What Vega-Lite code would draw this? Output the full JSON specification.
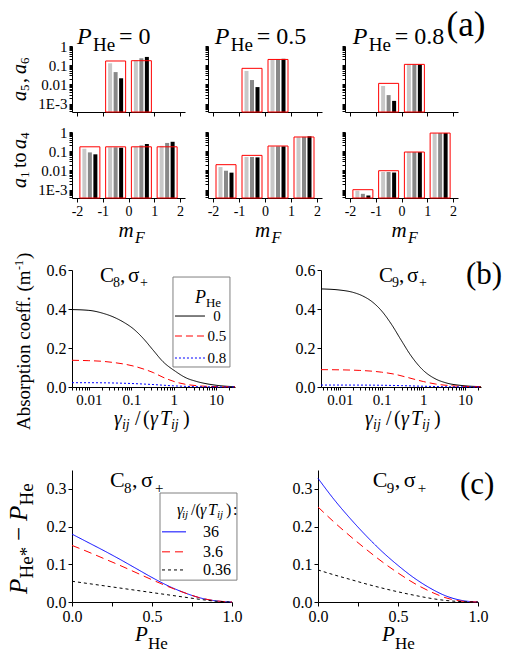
{
"$schema": "https://vega.github.io/schema/vega-lite/v6.json",
"padding": 0,
"config": {
 "font": "Liberation Serif",
 "view": {"stroke": null},
 "axis": {"grid": false, "domainColor": "black", "tickColor": "black", "labelColor": "black", "labelFont": "Liberation Serif", "labelFontSize": 15, "tickSize": 4, "labelPadding": 2, "labelFlush": false, "labelOverlap": false},
 "text": {"font": "Liberation Serif", "color": "black"}
},
"datasets": {
 "one": [{"k": 1}],
 "bars": [
  {"P":0,"r":"t","m":-0.5,"s":"box","v":0.166},{"P":0,"r":"t","m":-0.5,"s":"l","v":0.126},{"P":0,"r":"t","m":-0.5,"s":"g","v":0.044},{"P":0,"r":"t","m":-0.5,"s":"k","v":0.021},
  {"P":0,"r":"t","m":0.5,"s":"box","v":0.172},{"P":0,"r":"t","m":0.5,"s":"l","v":0.18},{"P":0,"r":"t","m":0.5,"s":"g","v":0.23},{"P":0,"r":"t","m":0.5,"s":"k","v":0.27},
  {"P":0.5,"r":"t","m":-0.5,"s":"box","v":0.069},{"P":0.5,"r":"t","m":-0.5,"s":"l","v":0.05},{"P":0.5,"r":"t","m":-0.5,"s":"g","v":0.017},{"P":0.5,"r":"t","m":-0.5,"s":"k","v":0.0073},
  {"P":0.5,"r":"t","m":0.5,"s":"box","v":0.2},{"P":0.5,"r":"t","m":0.5,"s":"l","v":0.19},{"P":0.5,"r":"t","m":0.5,"s":"g","v":0.2},{"P":0.5,"r":"t","m":0.5,"s":"k","v":0.215},
  {"P":0.8,"r":"t","m":-0.5,"s":"box","v":0.0114},{"P":0.8,"r":"t","m":-0.5,"s":"l","v":0.0083},{"P":0.8,"r":"t","m":-0.5,"s":"g","v":0.0028},{"P":0.8,"r":"t","m":-0.5,"s":"k","v":0.0014},
  {"P":0.8,"r":"t","m":0.5,"s":"box","v":0.111},{"P":0.8,"r":"t","m":0.5,"s":"l","v":0.11},{"P":0.8,"r":"t","m":0.5,"s":"g","v":0.11},{"P":0.8,"r":"t","m":0.5,"s":"k","v":0.11},
  {"P":0,"r":"b","m":-1.5,"s":"box","v":0.17},{"P":0,"r":"b","m":-1.5,"s":"l","v":0.135},{"P":0,"r":"b","m":-1.5,"s":"g","v":0.087},{"P":0,"r":"b","m":-1.5,"s":"k","v":0.069},
  {"P":0,"r":"b","m":-0.5,"s":"box","v":0.17},{"P":0,"r":"b","m":-0.5,"s":"l","v":0.16},{"P":0,"r":"b","m":-0.5,"s":"g","v":0.16},{"P":0,"r":"b","m":-0.5,"s":"k","v":0.152},
  {"P":0,"r":"b","m":0.5,"s":"box","v":0.17},{"P":0,"r":"b","m":0.5,"s":"l","v":0.17},{"P":0,"r":"b","m":0.5,"s":"g","v":0.2},{"P":0,"r":"b","m":0.5,"s":"k","v":0.237},
  {"P":0,"r":"b","m":1.5,"s":"box","v":0.17},{"P":0,"r":"b","m":1.5,"s":"l","v":0.19},{"P":0,"r":"b","m":1.5,"s":"g","v":0.27},{"P":0,"r":"b","m":1.5,"s":"k","v":0.31},
  {"P":0.5,"r":"b","m":-1.5,"s":"box","v":0.02},{"P":0.5,"r":"b","m":-1.5,"s":"l","v":0.015},{"P":0.5,"r":"b","m":-1.5,"s":"g","v":0.0097},{"P":0.5,"r":"b","m":-1.5,"s":"k","v":0.0077},
  {"P":0.5,"r":"b","m":-0.5,"s":"box","v":0.061},{"P":0.5,"r":"b","m":-0.5,"s":"l","v":0.05},{"P":0.5,"r":"b","m":-0.5,"s":"g","v":0.05},{"P":0.5,"r":"b","m":-0.5,"s":"k","v":0.048},
  {"P":0.5,"r":"b","m":0.5,"s":"box","v":0.187},{"P":0.5,"r":"b","m":0.5,"s":"l","v":0.18},{"P":0.5,"r":"b","m":0.5,"s":"g","v":0.18},{"P":0.5,"r":"b","m":0.5,"s":"k","v":0.18},
  {"P":0.5,"r":"b","m":1.5,"s":"box","v":0.55},{"P":0.5,"r":"b","m":1.5,"s":"l","v":0.53},{"P":0.5,"r":"b","m":1.5,"s":"g","v":0.56},{"P":0.5,"r":"b","m":1.5,"s":"k","v":0.6},
  {"P":0.8,"r":"b","m":-1.5,"s":"box","v":0.001},{"P":0.8,"r":"b","m":-1.5,"s":"l","v":0.00088},{"P":0.8,"r":"b","m":-1.5,"s":"g","v":0.00061},{"P":0.8,"r":"b","m":-1.5,"s":"k","v":0.0005},
  {"P":0.8,"r":"b","m":-0.5,"s":"box","v":0.0097},{"P":0.8,"r":"b","m":-0.5,"s":"l","v":0.0083},{"P":0.8,"r":"b","m":-0.5,"s":"g","v":0.0083},{"P":0.8,"r":"b","m":-0.5,"s":"k","v":0.0078},
  {"P":0.8,"r":"b","m":0.5,"s":"box","v":0.091},{"P":0.8,"r":"b","m":0.5,"s":"l","v":0.09},{"P":0.8,"r":"b","m":0.5,"s":"g","v":0.09},{"P":0.8,"r":"b","m":0.5,"s":"k","v":0.09},
  {"P":0.8,"r":"b","m":1.5,"s":"box","v":0.88},{"P":0.8,"r":"b","m":1.5,"s":"l","v":0.86},{"P":0.8,"r":"b","m":1.5,"s":"g","v":0.87},{"P":0.8,"r":"b","m":1.5,"s":"k","v":0.88}
 ],
 "lines": [
  {"p":"B1","g":"0","x":0.004,"y":0.397},{"p":"B1","g":"0","x":0.01,"y":0.393},{"p":"B1","g":"0","x":0.0215,"y":0.378},{"p":"B1","g":"0","x":0.037,"y":0.36},{"p":"B1","g":"0","x":0.064,"y":0.334},{"p":"B1","g":"0","x":0.114,"y":0.297},{"p":"B1","g":"0","x":0.19,"y":0.25},{"p":"B1","g":"0","x":0.325,"y":0.19},{"p":"B1","g":"0","x":0.56,"y":0.13},{"p":"B1","g":"0","x":1.09,"y":0.081},{"p":"B1","g":"0","x":2,"y":0.046},{"p":"B1","g":"0","x":3.4,"y":0.029},{"p":"B1","g":"0","x":10,"y":0.009},{"p":"B1","g":"0","x":28,"y":0.0015},
  {"p":"B1","g":"0.5","x":0.004,"y":0.137},{"p":"B1","g":"0.5","x":0.01,"y":0.135},{"p":"B1","g":"0.5","x":0.02,"y":0.132},{"p":"B1","g":"0.5","x":0.04,"y":0.125},{"p":"B1","g":"0.5","x":0.07,"y":0.117},{"p":"B1","g":"0.5","x":0.11,"y":0.108},{"p":"B1","g":"0.5","x":0.19,"y":0.093},{"p":"B1","g":"0.5","x":0.33,"y":0.074},{"p":"B1","g":"0.5","x":0.56,"y":0.05},{"p":"B1","g":"0.5","x":1.1,"y":0.026},{"p":"B1","g":"0.5","x":2,"y":0.013},{"p":"B1","g":"0.5","x":3.4,"y":0.007},{"p":"B1","g":"0.5","x":10,"y":0.002},{"p":"B1","g":"0.5","x":28,"y":0.0005},
  {"p":"B1","g":"0.8","x":0.004,"y":0.022},{"p":"B1","g":"0.8","x":0.01,"y":0.022},{"p":"B1","g":"0.8","x":0.03,"y":0.021},{"p":"B1","g":"0.8","x":0.1,"y":0.018},{"p":"B1","g":"0.8","x":0.3,"y":0.013},{"p":"B1","g":"0.8","x":1,"y":0.006},{"p":"B1","g":"0.8","x":3,"y":0.002},{"p":"B1","g":"0.8","x":10,"y":0.0005},{"p":"B1","g":"0.8","x":28,"y":0.0001},
  {"p":"B2","g":"0","x":0.0035,"y":0.503},{"p":"B2","g":"0","x":0.01,"y":0.497},{"p":"B2","g":"0","x":0.02,"y":0.486},{"p":"B2","g":"0","x":0.035,"y":0.467},{"p":"B2","g":"0","x":0.06,"y":0.436},{"p":"B2","g":"0","x":0.1,"y":0.39},{"p":"B2","g":"0","x":0.17,"y":0.323},{"p":"B2","g":"0","x":0.3,"y":0.237},{"p":"B2","g":"0","x":0.5,"y":0.162},{"p":"B2","g":"0","x":1,"y":0.085},{"p":"B2","g":"0","x":2,"y":0.0405},{"p":"B2","g":"0","x":3.5,"y":0.0213},{"p":"B2","g":"0","x":10,"y":0.0061},{"p":"B2","g":"0","x":24,"y":0.0021},
  {"p":"B2","g":"0.5","x":0.0035,"y":0.089},{"p":"B2","g":"0.5","x":0.01,"y":0.088},{"p":"B2","g":"0.5","x":0.03,"y":0.085},{"p":"B2","g":"0.5","x":0.06,"y":0.081},{"p":"B2","g":"0.5","x":0.1,"y":0.076},{"p":"B2","g":"0.5","x":0.2,"y":0.066},{"p":"B2","g":"0.5","x":0.4,"y":0.05},{"p":"B2","g":"0.5","x":1,"y":0.028},{"p":"B2","g":"0.5","x":2,"y":0.015},{"p":"B2","g":"0.5","x":5,"y":0.006},{"p":"B2","g":"0.5","x":10,"y":0.003},{"p":"B2","g":"0.5","x":24,"y":0.001},
  {"p":"B2","g":"0.8","x":0.0035,"y":0.01},{"p":"B2","g":"0.8","x":0.03,"y":0.0098},{"p":"B2","g":"0.8","x":0.1,"y":0.009},{"p":"B2","g":"0.8","x":0.3,"y":0.007},{"p":"B2","g":"0.8","x":1,"y":0.004},{"p":"B2","g":"0.8","x":3,"y":0.0015},{"p":"B2","g":"0.8","x":10,"y":0.0005},{"p":"B2","g":"0.8","x":24,"y":0.0001},
  {"p":"C1","g":"36","x":0,"y":0.18},{"p":"C1","g":"36","x":0.1,"y":0.158},{"p":"C1","g":"36","x":0.2,"y":0.136},{"p":"C1","g":"36","x":0.3,"y":0.113},{"p":"C1","g":"36","x":0.4,"y":0.089},{"p":"C1","g":"36","x":0.5,"y":0.065},{"p":"C1","g":"36","x":0.6,"y":0.043},{"p":"C1","g":"36","x":0.7,"y":0.025},{"p":"C1","g":"36","x":0.8,"y":0.011},{"p":"C1","g":"36","x":0.9,"y":0.003},{"p":"C1","g":"36","x":1,"y":0},
  {"p":"C1","g":"3.6","x":0,"y":0.15},{"p":"C1","g":"3.6","x":0.1,"y":0.133},{"p":"C1","g":"3.6","x":0.2,"y":0.115},{"p":"C1","g":"3.6","x":0.3,"y":0.097},{"p":"C1","g":"3.6","x":0.4,"y":0.078},{"p":"C1","g":"3.6","x":0.5,"y":0.059},{"p":"C1","g":"3.6","x":0.6,"y":0.041},{"p":"C1","g":"3.6","x":0.7,"y":0.025},{"p":"C1","g":"3.6","x":0.8,"y":0.011},{"p":"C1","g":"3.6","x":0.9,"y":0.003},{"p":"C1","g":"3.6","x":1,"y":0},
  {"p":"C1","g":"0.36","x":0,"y":0.055},{"p":"C1","g":"0.36","x":0.1,"y":0.049},{"p":"C1","g":"0.36","x":0.2,"y":0.043},{"p":"C1","g":"0.36","x":0.3,"y":0.037},{"p":"C1","g":"0.36","x":0.4,"y":0.031},{"p":"C1","g":"0.36","x":0.5,"y":0.025},{"p":"C1","g":"0.36","x":0.6,"y":0.019},{"p":"C1","g":"0.36","x":0.7,"y":0.013},{"p":"C1","g":"0.36","x":0.8,"y":0.007},{"p":"C1","g":"0.36","x":0.9,"y":0.002},{"p":"C1","g":"0.36","x":1,"y":0},
  {"p":"C2","g":"36","x":0,"y":0.328},{"p":"C2","g":"36","x":0.1,"y":0.272},{"p":"C2","g":"36","x":0.2,"y":0.222},{"p":"C2","g":"36","x":0.3,"y":0.176},{"p":"C2","g":"36","x":0.4,"y":0.134},{"p":"C2","g":"36","x":0.5,"y":0.097},{"p":"C2","g":"36","x":0.6,"y":0.064},{"p":"C2","g":"36","x":0.7,"y":0.037},{"p":"C2","g":"36","x":0.8,"y":0.016},{"p":"C2","g":"36","x":0.9,"y":0.004},{"p":"C2","g":"36","x":1,"y":0},
  {"p":"C2","g":"3.6","x":0,"y":0.252},{"p":"C2","g":"3.6","x":0.1,"y":0.212},{"p":"C2","g":"3.6","x":0.2,"y":0.175},{"p":"C2","g":"3.6","x":0.3,"y":0.14},{"p":"C2","g":"3.6","x":0.4,"y":0.107},{"p":"C2","g":"3.6","x":0.5,"y":0.077},{"p":"C2","g":"3.6","x":0.6,"y":0.05},{"p":"C2","g":"3.6","x":0.7,"y":0.028},{"p":"C2","g":"3.6","x":0.8,"y":0.011},{"p":"C2","g":"3.6","x":0.9,"y":0.002},{"p":"C2","g":"3.6","x":1,"y":0},
  {"p":"C2","g":"0.36","x":0,"y":0.085},{"p":"C2","g":"0.36","x":0.1,"y":0.072},{"p":"C2","g":"0.36","x":0.2,"y":0.06},{"p":"C2","g":"0.36","x":0.3,"y":0.048},{"p":"C2","g":"0.36","x":0.4,"y":0.037},{"p":"C2","g":"0.36","x":0.5,"y":0.027},{"p":"C2","g":"0.36","x":0.6,"y":0.018},{"p":"C2","g":"0.36","x":0.7,"y":0.01},{"p":"C2","g":"0.36","x":0.8,"y":0.004},{"p":"C2","g":"0.36","x":0.9,"y":0.001},{"p":"C2","g":"0.36","x":1,"y":0}
 ]
},
"spacing": 0,
"resolve": {"scale": {"color": "independent", "strokeDash": "independent"}},
"vconcat": [
 {"hconcat": [
  {"width": 113, "height": 66,
   "layer": [
    {"data": {"name": "bars"}, "transform": [{"filter": "datum.P == 0 && datum.r == 't'"}],
     "encoding": {
      "x": {"field": "m", "type": "quantitative", "scale": {"domain": [-2, 2], "nice": false, "zero": false}, "axis": {"values": [-2,-1,0,1,2], "tickCount": 20, "labels": false, "title": null}},
      "y": {"field": "v", "type": "quantitative", "scale": {"type": "log", "domain": [0.00037, 1], "nice": false}, "axis": {"values": [0.0004,0.0005,0.0006,0.0007,0.0008,0.0009,0.001,0.002,0.003,0.004,0.005,0.006,0.007,0.008,0.009,0.01,0.02,0.03,0.04,0.05,0.06,0.07,0.08,0.09,0.1,0.2,0.3,0.4,0.5,0.6,0.7,0.8,0.9,1], "tickCount": 100, "labelExpr": "datum.value == 1 ? '1' : datum.value == 0.1 ? '0.1' : datum.value == 0.01 ? '0.01' : datum.value == 0.001 ? '1E-3' : ''", "title": null, "tickSize": 3}},
      "y2": {"datum": 0.00037}
     },
     "layer": [
      {"transform": [{"filter": "datum.s == 'l'"}], "mark": {"type": "bar", "width": 4, "xOffset": -5.5, "color": "#c8c8c8"}},
      {"transform": [{"filter": "datum.s == 'g'"}], "mark": {"type": "bar", "width": 4, "xOffset": 0, "color": "#888888"}},
      {"transform": [{"filter": "datum.s == 'k'"}], "mark": {"type": "bar", "width": 4, "xOffset": 5.5, "color": "#000000"}},
      {"transform": [{"filter": "datum.s == 'box'"}], "mark": {"type": "bar", "width": 20, "filled": false, "color": "#ff0000", "strokeWidth": 1}}
     ]},
    {"data": {"name": "one"}, "mark": {"type": "rect", "opacity": 0}, "encoding": {"x": {"datum": -4.726}, "x2": {"datum": -2}, "y": {"datum": 221}, "y2": {"datum": 0.000124}}},
    {"data": {"name": "one"}, "encoding": {"x": {"datum": -2}, "y": {"datum": 1.32}}, "layer": [
     {"mark": {"type": "text", "fontSize": 24, "fontStyle": "italic", "align": "left", "baseline": "alphabetic"}, "encoding": {"text": {"value": "P"}}},
     {"mark": {"type": "text", "fontSize": 19, "align": "left", "baseline": "alphabetic", "dx": 16, "dy": 7}, "encoding": {"text": {"value": "He"}}},
     {"mark": {"type": "text", "fontSize": 24, "align": "left", "baseline": "alphabetic", "dx": 42}, "encoding": {"text": {"value": "= 0"}}}
    ]},
    {"data": {"name": "one"}, "encoding": {"x": {"datum": -3.98}, "y": {"datum": 0.00137}}, "layer": [
     {"mark": {"type": "text", "fontSize": 20, "fontStyle": "italic", "angle": 270, "align": "left", "baseline": "alphabetic"}, "encoding": {"text": {"value": "a"}}},
     {"mark": {"type": "text", "fontSize": 13, "angle": 270, "align": "left", "baseline": "alphabetic", "dx": 10, "dy": 3}, "encoding": {"text": {"value": "5"}}},
     {"mark": {"type": "text", "fontSize": 20, "angle": 270, "align": "left", "baseline": "alphabetic", "dx": 18}, "encoding": {"text": {"value": ","}}},
     {"mark": {"type": "text", "fontSize": 20, "fontStyle": "italic", "angle": 270, "align": "left", "baseline": "alphabetic", "dx": 27}, "encoding": {"text": {"value": "a"}}},
     {"mark": {"type": "text", "fontSize": 13, "angle": 270, "align": "left", "baseline": "alphabetic", "dx": 37, "dy": 3}, "encoding": {"text": {"value": "6"}}}
    ]}
   ]},
  {"width": 114, "height": 66,
   "layer": [
    {"data": {"name": "bars"}, "transform": [{"filter": "datum.P == 0.5 && datum.r == 't'"}],
     "encoding": {
      "x": {"field": "m", "type": "quantitative", "scale": {"domain": [-2, 2], "nice": false, "zero": false}, "axis": {"values": [-2,-1,0,1,2], "tickCount": 20, "labels": false, "title": null}},
      "y": {"field": "v", "type": "quantitative", "scale": {"type": "log", "domain": [0.00037, 1], "nice": false}, "axis": {"values": [0.0004,0.0005,0.0006,0.0007,0.0008,0.0009,0.001,0.002,0.003,0.004,0.005,0.006,0.007,0.008,0.009,0.01,0.02,0.03,0.04,0.05,0.06,0.07,0.08,0.09,0.1,0.2,0.3,0.4,0.5,0.6,0.7,0.8,0.9,1], "tickCount": 100, "labels": false, "title": null, "tickSize": 3}},
      "y2": {"datum": 0.00037}
     },
     "layer": [
      {"transform": [{"filter": "datum.s == 'l'"}], "mark": {"type": "bar", "width": 4, "xOffset": -5.5, "color": "#c8c8c8"}},
      {"transform": [{"filter": "datum.s == 'g'"}], "mark": {"type": "bar", "width": 4, "xOffset": 0, "color": "#888888"}},
      {"transform": [{"filter": "datum.s == 'k'"}], "mark": {"type": "bar", "width": 4, "xOffset": 5.5, "color": "#000000"}},
      {"transform": [{"filter": "datum.s == 'box'"}], "mark": {"type": "bar", "width": 20, "filled": false, "color": "#ff0000", "strokeWidth": 1}}
     ]},
    {"data": {"name": "one"}, "encoding": {"x": {"datum": -1.93}, "y": {"datum": 1.32}}, "layer": [
     {"mark": {"type": "text", "fontSize": 24, "fontStyle": "italic", "align": "left", "baseline": "alphabetic"}, "encoding": {"text": {"value": "P"}}},
     {"mark": {"type": "text", "fontSize": 19, "align": "left", "baseline": "alphabetic", "dx": 16, "dy": 7}, "encoding": {"text": {"value": "He"}}},
     {"mark": {"type": "text", "fontSize": 24, "align": "left", "baseline": "alphabetic", "dx": 42}, "encoding": {"text": {"value": "= 0.5"}}}
    ]}
   ]},
  {"width": 113, "height": 66,
   "layer": [
    {"data": {"name": "bars"}, "transform": [{"filter": "datum.P == 0.8 && datum.r == 't'"}],
     "encoding": {
      "x": {"field": "m", "type": "quantitative", "scale": {"domain": [-2, 2], "nice": false, "zero": false}, "axis": {"values": [-2,-1,0,1,2], "tickCount": 20, "labels": false, "title": null}},
      "y": {"field": "v", "type": "quantitative", "scale": {"type": "log", "domain": [0.00037, 1], "nice": false}, "axis": {"values": [0.0004,0.0005,0.0006,0.0007,0.0008,0.0009,0.001,0.002,0.003,0.004,0.005,0.006,0.007,0.008,0.009,0.01,0.02,0.03,0.04,0.05,0.06,0.07,0.08,0.09,0.1,0.2,0.3,0.4,0.5,0.6,0.7,0.8,0.9,1], "tickCount": 100, "labels": false, "title": null, "tickSize": 3}},
      "y2": {"datum": 0.00037}
     },
     "layer": [
      {"transform": [{"filter": "datum.s == 'l'"}], "mark": {"type": "bar", "width": 4, "xOffset": -5.5, "color": "#c8c8c8"}},
      {"transform": [{"filter": "datum.s == 'g'"}], "mark": {"type": "bar", "width": 4, "xOffset": 0, "color": "#888888"}},
      {"transform": [{"filter": "datum.s == 'k'"}], "mark": {"type": "bar", "width": 4, "xOffset": 5.5, "color": "#000000"}},
      {"transform": [{"filter": "datum.s == 'box'"}], "mark": {"type": "bar", "width": 20, "filled": false, "color": "#ff0000", "strokeWidth": 1}}
     ]},
    {"data": {"name": "one"}, "encoding": {"x": {"datum": -1.894}, "y": {"datum": 1.32}}, "layer": [
     {"mark": {"type": "text", "fontSize": 24, "fontStyle": "italic", "align": "left", "baseline": "alphabetic"}, "encoding": {"text": {"value": "P"}}},
     {"mark": {"type": "text", "fontSize": 19, "align": "left", "baseline": "alphabetic", "dx": 16, "dy": 7}, "encoding": {"text": {"value": "He"}}},
     {"mark": {"type": "text", "fontSize": 24, "align": "left", "baseline": "alphabetic", "dx": 42}, "encoding": {"text": {"value": "= 0.8"}}}
    ]},
    {"data": {"name": "one"}, "mark": {"type": "text", "fontSize": 35, "align": "left", "baseline": "alphabetic"}, "encoding": {"x": {"datum": 1.75}, "y": {"datum": 3.3}, "text": {"value": "(a)"}}}
   ]}
 ], "spacing": 23, "bounds": "flush"},
 {"hconcat": [
  {"width": 113, "height": 66,
   "layer": [
    {"data": {"name": "bars"}, "transform": [{"filter": "datum.P == 0 && datum.r == 'b'"}],
     "encoding": {
      "x": {"field": "m", "type": "quantitative", "scale": {"domain": [-2, 2], "nice": false, "zero": false}, "axis": {"values": [-2,-1,0,1,2], "tickCount": 20, "labelExpr": "'' + datum.value", "labelFontSize": 14, "title": null}},
      "y": {"field": "v", "type": "quantitative", "scale": {"type": "log", "domain": [0.00037, 1], "nice": false}, "axis": {"values": [0.0004,0.0005,0.0006,0.0007,0.0008,0.0009,0.001,0.002,0.003,0.004,0.005,0.006,0.007,0.008,0.009,0.01,0.02,0.03,0.04,0.05,0.06,0.07,0.08,0.09,0.1,0.2,0.3,0.4,0.5,0.6,0.7,0.8,0.9,1], "tickCount": 100, "labelExpr": "datum.value == 1 ? '1' : datum.value == 0.1 ? '0.1' : datum.value == 0.01 ? '0.01' : datum.value == 0.001 ? '1E-3' : ''", "title": null, "tickSize": 3}},
      "y2": {"datum": 0.00037}
     },
     "layer": [
      {"transform": [{"filter": "datum.s == 'l'"}], "mark": {"type": "bar", "width": 4, "xOffset": -5.5, "color": "#c8c8c8"}},
      {"transform": [{"filter": "datum.s == 'g'"}], "mark": {"type": "bar", "width": 4, "xOffset": 0, "color": "#888888"}},
      {"transform": [{"filter": "datum.s == 'k'"}], "mark": {"type": "bar", "width": 4, "xOffset": 5.5, "color": "#000000"}},
      {"transform": [{"filter": "datum.s == 'box'"}], "mark": {"type": "bar", "width": 20, "filled": false, "color": "#ff0000", "strokeWidth": 1}}
     ]},
    {"data": {"name": "one"}, "mark": {"type": "rect", "opacity": 0}, "encoding": {"x": {"datum": -4.726}, "x2": {"datum": -2}, "y": {"datum": 2.94}, "y2": {"datum": 0.00000102}}},
    {"data": {"name": "one"}, "encoding": {"x": {"datum": -3.98}, "y": {"datum": 0.00121}}, "layer": [
     {"mark": {"type": "text", "fontSize": 20, "fontStyle": "italic", "angle": 270, "align": "left", "baseline": "alphabetic"}, "encoding": {"text": {"value": "a"}}},
     {"mark": {"type": "text", "fontSize": 13, "angle": 270, "align": "left", "baseline": "alphabetic", "dx": 10, "dy": 3}, "encoding": {"text": {"value": "1"}}},
     {"mark": {"type": "text", "fontSize": 20, "angle": 270, "align": "left", "baseline": "alphabetic", "dx": 20}, "encoding": {"text": {"value": "to"}}},
     {"mark": {"type": "text", "fontSize": 20, "fontStyle": "italic", "angle": 270, "align": "left", "baseline": "alphabetic", "dx": 39}, "encoding": {"text": {"value": "a"}}},
     {"mark": {"type": "text", "fontSize": 13, "angle": 270, "align": "left", "baseline": "alphabetic", "dx": 49, "dy": 3}, "encoding": {"text": {"value": "4"}}}
    ]},
    {"data": {"name": "one"}, "encoding": {"x": {"datum": 0}, "y": {"datum": 0.00000344}}, "layer": [
     {"mark": {"type": "text", "fontSize": 21, "fontStyle": "italic", "align": "left", "baseline": "alphabetic", "dx": -10}, "encoding": {"text": {"value": "m"}}},
     {"mark": {"type": "text", "fontSize": 16, "fontStyle": "italic", "align": "left", "baseline": "alphabetic", "dx": 6.5, "dy": 6}, "encoding": {"text": {"value": "F"}}}
    ]}
   ]},
  {"width": 114, "height": 66,
   "layer": [
    {"data": {"name": "bars"}, "transform": [{"filter": "datum.P == 0.5 && datum.r == 'b'"}],
     "encoding": {
      "x": {"field": "m", "type": "quantitative", "scale": {"domain": [-2, 2], "nice": false, "zero": false}, "axis": {"values": [-2,-1,0,1,2], "tickCount": 20, "labelExpr": "'' + datum.value", "labelFontSize": 14, "title": null}},
      "y": {"field": "v", "type": "quantitative", "scale": {"type": "log", "domain": [0.00037, 1], "nice": false}, "axis": {"values": [0.0004,0.0005,0.0006,0.0007,0.0008,0.0009,0.001,0.002,0.003,0.004,0.005,0.006,0.007,0.008,0.009,0.01,0.02,0.03,0.04,0.05,0.06,0.07,0.08,0.09,0.1,0.2,0.3,0.4,0.5,0.6,0.7,0.8,0.9,1], "tickCount": 100, "labels": false, "title": null, "tickSize": 3}},
      "y2": {"datum": 0.00037}
     },
     "layer": [
      {"transform": [{"filter": "datum.s == 'l'"}], "mark": {"type": "bar", "width": 4, "xOffset": -5.5, "color": "#c8c8c8"}},
      {"transform": [{"filter": "datum.s == 'g'"}], "mark": {"type": "bar", "width": 4, "xOffset": 0, "color": "#888888"}},
      {"transform": [{"filter": "datum.s == 'k'"}], "mark": {"type": "bar", "width": 4, "xOffset": 5.5, "color": "#000000"}},
      {"transform": [{"filter": "datum.s == 'box'"}], "mark": {"type": "bar", "width": 20, "filled": false, "color": "#ff0000", "strokeWidth": 1}}
     ]},
    {"data": {"name": "one"}, "encoding": {"x": {"datum": 0}, "y": {"datum": 0.00000344}}, "layer": [
     {"mark": {"type": "text", "fontSize": 21, "fontStyle": "italic", "align": "left", "baseline": "alphabetic", "dx": -10}, "encoding": {"text": {"value": "m"}}},
     {"mark": {"type": "text", "fontSize": 16, "fontStyle": "italic", "align": "left", "baseline": "alphabetic", "dx": 6.5, "dy": 6}, "encoding": {"text": {"value": "F"}}}
    ]}
   ]},
  {"width": 113, "height": 66,
   "layer": [
    {"data": {"name": "bars"}, "transform": [{"filter": "datum.P == 0.8 && datum.r == 'b'"}],
     "encoding": {
      "x": {"field": "m", "type": "quantitative", "scale": {"domain": [-2, 2], "nice": false, "zero": false}, "axis": {"values": [-2,-1,0,1,2], "tickCount": 20, "labelExpr": "'' + datum.value", "labelFontSize": 14, "title": null}},
      "y": {"field": "v", "type": "quantitative", "scale": {"type": "log", "domain": [0.00037, 1], "nice": false}, "axis": {"values": [0.0004,0.0005,0.0006,0.0007,0.0008,0.0009,0.001,0.002,0.003,0.004,0.005,0.006,0.007,0.008,0.009,0.01,0.02,0.03,0.04,0.05,0.06,0.07,0.08,0.09,0.1,0.2,0.3,0.4,0.5,0.6,0.7,0.8,0.9,1], "tickCount": 100, "labels": false, "title": null, "tickSize": 3}},
      "y2": {"datum": 0.00037}
     },
     "layer": [
      {"transform": [{"filter": "datum.s == 'l'"}], "mark": {"type": "bar", "width": 4, "xOffset": -5.5, "color": "#c8c8c8"}},
      {"transform": [{"filter": "datum.s == 'g'"}], "mark": {"type": "bar", "width": 4, "xOffset": 0, "color": "#888888"}},
      {"transform": [{"filter": "datum.s == 'k'"}], "mark": {"type": "bar", "width": 4, "xOffset": 5.5, "color": "#000000"}},
      {"transform": [{"filter": "datum.s == 'box'"}], "mark": {"type": "bar", "width": 20, "filled": false, "color": "#ff0000", "strokeWidth": 1}}
     ]},
    {"data": {"name": "one"}, "encoding": {"x": {"datum": 0}, "y": {"datum": 0.00000344}}, "layer": [
     {"mark": {"type": "text", "fontSize": 21, "fontStyle": "italic", "align": "left", "baseline": "alphabetic", "dx": -10}, "encoding": {"text": {"value": "m"}}},
     {"mark": {"type": "text", "fontSize": 16, "fontStyle": "italic", "align": "left", "baseline": "alphabetic", "dx": 6.5, "dy": 6}, "encoding": {"text": {"value": "F"}}}
    ]}
   ]}
 ], "spacing": 23, "bounds": "flush"},
 {"hconcat": [
  {"width": 163, "height": 117,
   "layer": [
    {"data": {"name": "lines"}, "transform": [{"filter": "datum.p == 'B1'"}], "mark": {"type": "line", "strokeWidth": 1, "interpolate": "monotone"},
     "encoding": {
      "x": {"field": "x", "type": "quantitative", "scale": {"type": "log", "domain": [0.004, 28], "nice": false}, "axis": {"values": [0.004,0.005,0.006,0.007,0.008,0.009,0.01,0.02,0.03,0.04,0.05,0.06,0.07,0.08,0.09,0.1,0.2,0.3,0.4,0.5,0.6,0.7,0.8,0.9,1,2,3,4,5,6,7,8,9,10,20], "tickCount": 100, "labelExpr": "datum.value == 0.01 ? '0.01' : datum.value == 0.1 ? '0.1' : datum.value == 1 ? '1' : datum.value == 10 ? '10' : ''", "labelFontSize": 15, "title": null, "tickSize": 3}},
      "y": {"field": "y", "type": "quantitative", "scale": {"domain": [0, 0.6], "nice": false}, "axis": {"values": [0, 0.2, 0.4, 0.6], "tickCount": 20, "format": ".1f", "labelFontSize": 16, "title": null}},
      "color": {"field": "g", "type": "nominal", "scale": {"domain": ["0", "0.5", "0.8"], "range": ["#000000", "#ff0000", "#0000ff"]}, "legend": null},
      "strokeDash": {"field": "g", "type": "nominal", "scale": {"domain": ["0", "0.5", "0.8"], "range": [[1, 0], [7, 4], [2, 2]]}, "legend": null}}},
    {"data": {"name": "one"}, "mark": {"type": "rect", "opacity": 0}, "encoding": {"x": {"datum": 0.0000944}, "x2": {"datum": 0.004}, "y": {"datum": 0.7077}, "y2": {"datum": -0.349}}},
    {"data": {"name": "one"}, "mark": {"type": "rect", "fill": "white", "stroke": "#808080", "strokeWidth": 1}, "encoding": {"x": {"datum": 0.964}, "x2": {"datum": 21.3}, "y": {"datum": 0.564}, "y2": {"datum": 0.1026}}},
    {"data": {"name": "one"}, "mark": {"type": "rule", "color": "#000000", "strokeWidth": 1}, "encoding": {"x": {"datum": 1.075}, "x2": {"datum": 5.48}, "y": {"datum": 0.364}}},
    {"data": {"name": "one"}, "mark": {"type": "rule", "color": "#ff0000", "strokeWidth": 1, "strokeDash": [7, 4]}, "encoding": {"x": {"datum": 1.075}, "x2": {"datum": 5.48}, "y": {"datum": 0.2615}}},
    {"data": {"name": "one"}, "mark": {"type": "rule", "color": "#0000ff", "strokeWidth": 1, "strokeDash": [2, 2]}, "encoding": {"x": {"datum": 1.075}, "x2": {"datum": 5.48}, "y": {"datum": 0.1487}}},
    {"data": {"name": "one"}, "mark": {"type": "text", "fontSize": 15, "align": "center", "baseline": "middle"}, "encoding": {"x": {"datum": 10.5}, "y": {"datum": 0.364}, "text": {"value": "0"}}},
    {"data": {"name": "one"}, "mark": {"type": "text", "fontSize": 15, "align": "center", "baseline": "middle"}, "encoding": {"x": {"datum": 10.5}, "y": {"datum": 0.2615}, "text": {"value": "0.5"}}},
    {"data": {"name": "one"}, "mark": {"type": "text", "fontSize": 15, "align": "center", "baseline": "middle"}, "encoding": {"x": {"datum": 10.5}, "y": {"datum": 0.1487}, "text": {"value": "0.8"}}},
    {"data": {"name": "one"}, "encoding": {"x": {"datum": 3.18}, "y": {"datum": 0.431}}, "layer": [
     {"mark": {"type": "text", "fontSize": 18, "fontStyle": "italic", "align": "left", "baseline": "alphabetic"}, "encoding": {"text": {"value": "P"}}},
     {"mark": {"type": "text", "fontSize": 13, "align": "left", "baseline": "alphabetic", "dx": 11, "dy": 4}, "encoding": {"text": {"value": "He"}}}
    ]},
    {"data": {"name": "one"}, "encoding": {"x": {"datum": 0.0183}, "y": {"datum": 0.538}}, "layer": [
     {"mark": {"type": "text", "fontSize": 21, "align": "left", "baseline": "alphabetic"}, "encoding": {"text": {"value": "C"}}},
     {"mark": {"type": "text", "fontSize": 14, "align": "left", "baseline": "alphabetic", "dx": 13, "dy": 5}, "encoding": {"text": {"value": "8"}}},
     {"mark": {"type": "text", "fontSize": 21, "align": "left", "baseline": "alphabetic", "dx": 20}, "encoding": {"text": {"value": ","}}},
     {"mark": {"type": "text", "fontSize": 21, "align": "left", "baseline": "alphabetic", "dx": 28}, "encoding": {"text": {"value": "σ"}}},
     {"mark": {"type": "text", "fontSize": 14, "align": "left", "baseline": "alphabetic", "dx": 40, "dy": 5}, "encoding": {"text": {"value": "+"}}}
    ]},
    {"data": {"name": "one"}, "encoding": {"x": {"datum": 0.0391}, "y": {"datum": -0.1949}}, "layer": [
     {"mark": {"type": "text", "fontSize": 20, "fontStyle": "italic", "align": "left", "baseline": "alphabetic"}, "encoding": {"text": {"value": "γ"}}},
     {"mark": {"type": "text", "fontSize": 14, "fontStyle": "italic", "align": "left", "baseline": "alphabetic", "dx": 8, "dy": 4}, "encoding": {"text": {"value": "ij"}}},
     {"mark": {"type": "text", "fontSize": 20, "align": "left", "baseline": "alphabetic", "dx": 21}, "encoding": {"text": {"value": "/"}}},
     {"mark": {"type": "text", "fontSize": 20, "align": "left", "baseline": "alphabetic", "dx": 29}, "encoding": {"text": {"value": "("}}},
     {"mark": {"type": "text", "fontSize": 20, "fontStyle": "italic", "align": "left", "baseline": "alphabetic", "dx": 36}, "encoding": {"text": {"value": "γ"}}},
     {"mark": {"type": "text", "fontSize": 20, "fontStyle": "italic", "align": "left", "baseline": "alphabetic", "dx": 46}, "encoding": {"text": {"value": "T"}}},
     {"mark": {"type": "text", "fontSize": 14, "fontStyle": "italic", "align": "left", "baseline": "alphabetic", "dx": 57, "dy": 4}, "encoding": {"text": {"value": "ij"}}},
     {"mark": {"type": "text", "fontSize": 20, "align": "left", "baseline": "alphabetic", "dx": 69}, "encoding": {"text": {"value": ")"}}}
    ]},
    {"data": {"name": "one"}, "encoding": {"x": {"datum": 0.00041}, "y": {"datum": -0.2205}}, "layer": [
     {"mark": {"type": "text", "fontSize": 19, "angle": 270, "align": "left", "baseline": "alphabetic"}, "encoding": {"text": {"value": "Absorption coeff. (m"}}},
     {"mark": {"type": "text", "fontSize": 12, "angle": 270, "align": "left", "baseline": "alphabetic", "dx": 160, "dy": -7}, "encoding": {"text": {"value": "-1"}}},
     {"mark": {"type": "text", "fontSize": 19, "angle": 270, "align": "left", "baseline": "alphabetic", "dx": 171}, "encoding": {"text": {"value": ")"}}}
    ]}
   ]},
  {"width": 160, "height": 117,
   "layer": [
    {"data": {"name": "lines"}, "transform": [{"filter": "datum.p == 'B2'"}], "mark": {"type": "line", "strokeWidth": 1, "interpolate": "monotone"},
     "encoding": {
      "x": {"field": "x", "type": "quantitative", "scale": {"type": "log", "domain": [0.0035, 24.2], "nice": false}, "axis": {"values": [0.004,0.005,0.006,0.007,0.008,0.009,0.01,0.02,0.03,0.04,0.05,0.06,0.07,0.08,0.09,0.1,0.2,0.3,0.4,0.5,0.6,0.7,0.8,0.9,1,2,3,4,5,6,7,8,9,10,20], "tickCount": 100, "labelExpr": "datum.value == 0.01 ? '0.01' : datum.value == 0.1 ? '0.1' : datum.value == 1 ? '1' : datum.value == 10 ? '10' : ''", "labelFontSize": 15, "title": null, "tickSize": 3}},
      "y": {"field": "y", "type": "quantitative", "scale": {"domain": [0, 0.6], "nice": false}, "axis": {"values": [0, 0.2, 0.4, 0.6], "tickCount": 20, "format": ".1f", "labelFontSize": 16, "title": null}},
      "color": {"field": "g", "type": "nominal", "scale": {"domain": ["0", "0.5", "0.8"], "range": ["#000000", "#ff0000", "#0000ff"]}, "legend": null},
      "strokeDash": {"field": "g", "type": "nominal", "scale": {"domain": ["0", "0.5", "0.8"], "range": [[1, 0], [7, 4], [2, 2]]}, "legend": null}}},
    {"data": {"name": "one"}, "encoding": {"x": {"datum": 0.0863}, "y": {"datum": 0.538}}, "layer": [
     {"mark": {"type": "text", "fontSize": 21, "align": "left", "baseline": "alphabetic"}, "encoding": {"text": {"value": "C"}}},
     {"mark": {"type": "text", "fontSize": 14, "align": "left", "baseline": "alphabetic", "dx": 13, "dy": 5}, "encoding": {"text": {"value": "9"}}},
     {"mark": {"type": "text", "fontSize": 21, "align": "left", "baseline": "alphabetic", "dx": 20}, "encoding": {"text": {"value": ","}}},
     {"mark": {"type": "text", "fontSize": 21, "align": "left", "baseline": "alphabetic", "dx": 28}, "encoding": {"text": {"value": "σ"}}},
     {"mark": {"type": "text", "fontSize": 14, "align": "left", "baseline": "alphabetic", "dx": 40, "dy": 5}, "encoding": {"text": {"value": "+"}}}
    ]},
    {"data": {"name": "one"}, "mark": {"type": "text", "fontSize": 31, "align": "left", "baseline": "alphabetic"}, "encoding": {"x": {"datum": 10.57}, "y": {"datum": 0.528}, "text": {"value": "(b)"}}},
    {"data": {"name": "one"}, "encoding": {"x": {"datum": 0.0398}, "y": {"datum": -0.1949}}, "layer": [
     {"mark": {"type": "text", "fontSize": 20, "fontStyle": "italic", "align": "left", "baseline": "alphabetic"}, "encoding": {"text": {"value": "γ"}}},
     {"mark": {"type": "text", "fontSize": 14, "fontStyle": "italic", "align": "left", "baseline": "alphabetic", "dx": 8, "dy": 4}, "encoding": {"text": {"value": "ij"}}},
     {"mark": {"type": "text", "fontSize": 20, "align": "left", "baseline": "alphabetic", "dx": 21}, "encoding": {"text": {"value": "/"}}},
     {"mark": {"type": "text", "fontSize": 20, "align": "left", "baseline": "alphabetic", "dx": 29}, "encoding": {"text": {"value": "("}}},
     {"mark": {"type": "text", "fontSize": 20, "fontStyle": "italic", "align": "left", "baseline": "alphabetic", "dx": 36}, "encoding": {"text": {"value": "γ"}}},
     {"mark": {"type": "text", "fontSize": 20, "fontStyle": "italic", "align": "left", "baseline": "alphabetic", "dx": 46}, "encoding": {"text": {"value": "T"}}},
     {"mark": {"type": "text", "fontSize": 14, "fontStyle": "italic", "align": "left", "baseline": "alphabetic", "dx": 57, "dy": 4}, "encoding": {"text": {"value": "ij"}}},
     {"mark": {"type": "text", "fontSize": 20, "align": "left", "baseline": "alphabetic", "dx": 69}, "encoding": {"text": {"value": ")"}}}
    ]}
   ]}
 ], "spacing": 86, "bounds": "flush"},
 {"hconcat": [
  {"width": 160, "height": 132,
   "layer": [
    {"data": {"name": "lines"}, "transform": [{"filter": "datum.p == 'C1'"}], "mark": {"type": "line", "strokeWidth": 1, "interpolate": "monotone"},
     "encoding": {
      "x": {"field": "x", "type": "quantitative", "scale": {"domain": [0, 1], "nice": false}, "axis": {"values": [0, 0.25, 0.5, 0.75, 1], "tickCount": 20, "labelExpr": "datum.value == 0.25 || datum.value == 0.75 ? '' : format(datum.value, '.1f')", "labelFontSize": 16, "title": null}},
      "y": {"field": "y", "type": "quantitative", "scale": {"domain": [0, 0.35], "nice": false}, "axis": {"values": [0, 0.1, 0.2, 0.3], "tickCount": 20, "format": ".1f", "labelFontSize": 16, "title": null}},
      "color": {"field": "g", "type": "nominal", "scale": {"domain": ["36", "3.6", "0.36"], "range": ["#0000ff", "#ff0000", "#000000"]}, "legend": null},
      "strokeDash": {"field": "g", "type": "nominal", "scale": {"domain": ["36", "3.6", "0.36"], "range": [[1, 0], [8, 5], [3, 3]]}, "legend": null}}},
    {"data": {"name": "one"}, "mark": {"type": "rect", "opacity": 0}, "encoding": {"x": {"datum": -0.45}, "x2": {"datum": 0}, "y": {"datum": 0.3846}, "y2": {"datum": -0.1565}}},
    {"data": {"name": "one"}, "mark": {"type": "rect", "fill": "white", "stroke": "#808080", "strokeWidth": 1}, "encoding": {"x": {"datum": 0.55}, "x2": {"datum": 1.031}, "y": {"datum": 0.289}, "y2": {"datum": 0.058}}},
    {"data": {"name": "one"}, "mark": {"type": "rule", "color": "#0000ff", "strokeWidth": 1}, "encoding": {"x": {"datum": 0.5625}, "x2": {"datum": 0.7125}, "y": {"datum": 0.186}}},
    {"data": {"name": "one"}, "mark": {"type": "rule", "color": "#ff0000", "strokeWidth": 1, "strokeDash": [8, 5]}, "encoding": {"x": {"datum": 0.5625}, "x2": {"datum": 0.7125}, "y": {"datum": 0.133}}},
    {"data": {"name": "one"}, "mark": {"type": "rule", "color": "#000000", "strokeWidth": 1, "strokeDash": [3, 3]}, "encoding": {"x": {"datum": 0.5625}, "x2": {"datum": 0.7125}, "y": {"datum": 0.085}}},
    {"data": {"name": "one"}, "mark": {"type": "text", "fontSize": 16, "align": "left", "baseline": "middle"}, "encoding": {"x": {"datum": 0.819}, "y": {"datum": 0.186}, "text": {"value": "36"}}},
    {"data": {"name": "one"}, "mark": {"type": "text", "fontSize": 16, "align": "left", "baseline": "middle"}, "encoding": {"x": {"datum": 0.819}, "y": {"datum": 0.133}, "text": {"value": "3.6"}}},
    {"data": {"name": "one"}, "mark": {"type": "text", "fontSize": 16, "align": "left", "baseline": "middle"}, "encoding": {"x": {"datum": 0.819}, "y": {"datum": 0.085}, "text": {"value": "0.36"}}},
    {"data": {"name": "one"}, "encoding": {"x": {"datum": 0.656}, "y": {"datum": 0.231}}, "layer": [
     {"mark": {"type": "text", "fontSize": 16, "fontStyle": "italic", "align": "left", "baseline": "alphabetic"}, "encoding": {"text": {"value": "γ"}}},
     {"mark": {"type": "text", "fontSize": 11, "fontStyle": "italic", "align": "left", "baseline": "alphabetic", "dx": 5, "dy": 3}, "encoding": {"text": {"value": "ij"}}},
     {"mark": {"type": "text", "fontSize": 16, "align": "left", "baseline": "alphabetic", "dx": 14}, "encoding": {"text": {"value": "/("}}},
     {"mark": {"type": "text", "fontSize": 16, "fontStyle": "italic", "align": "left", "baseline": "alphabetic", "dx": 23}, "encoding": {"text": {"value": "γ"}}},
     {"mark": {"type": "text", "fontSize": 16, "fontStyle": "italic", "align": "left", "baseline": "alphabetic", "dx": 31}, "encoding": {"text": {"value": "T"}}},
     {"mark": {"type": "text", "fontSize": 11, "fontStyle": "italic", "align": "left", "baseline": "alphabetic", "dx": 40, "dy": 3}, "encoding": {"text": {"value": "ij"}}},
     {"mark": {"type": "text", "fontSize": 16, "align": "left", "baseline": "alphabetic", "dx": 49}, "encoding": {"text": {"value": ")"}}},
     {"mark": {"type": "text", "fontSize": 16, "align": "left", "baseline": "alphabetic", "dx": 56}, "encoding": {"text": {"value": ":"}}}
    ]},
    {"data": {"name": "one"}, "encoding": {"x": {"datum": 0.2375}, "y": {"datum": 0.305}}, "layer": [
     {"mark": {"type": "text", "fontSize": 22, "align": "left", "baseline": "alphabetic"}, "encoding": {"text": {"value": "C"}}},
     {"mark": {"type": "text", "fontSize": 15, "align": "left", "baseline": "alphabetic", "dx": 14, "dy": 6}, "encoding": {"text": {"value": "8"}}},
     {"mark": {"type": "text", "fontSize": 22, "align": "left", "baseline": "alphabetic", "dx": 22}, "encoding": {"text": {"value": ","}}},
     {"mark": {"type": "text", "fontSize": 22, "align": "left", "baseline": "alphabetic", "dx": 31}, "encoding": {"text": {"value": "σ"}}},
     {"mark": {"type": "text", "fontSize": 15, "align": "left", "baseline": "alphabetic", "dx": 45, "dy": 6}, "encoding": {"text": {"value": "+"}}}
    ]},
    {"data": {"name": "one"}, "encoding": {"x": {"datum": 0.394}, "y": {"datum": -0.1034}}, "layer": [
     {"mark": {"type": "text", "fontSize": 21, "fontStyle": "italic", "align": "left", "baseline": "alphabetic"}, "encoding": {"text": {"value": "P"}}},
     {"mark": {"type": "text", "fontSize": 17, "align": "left", "baseline": "alphabetic", "dx": 13, "dy": 8}, "encoding": {"text": {"value": "He"}}}
    ]},
    {"data": {"name": "one"}, "encoding": {"x": {"datum": -0.281}, "y": {"datum": 0.0212}}, "layer": [
     {"mark": {"type": "text", "fontSize": 25, "fontStyle": "italic", "angle": 270, "align": "left", "baseline": "alphabetic"}, "encoding": {"text": {"value": "P"}}},
     {"mark": {"type": "text", "fontSize": 19, "angle": 270, "align": "left", "baseline": "alphabetic", "dx": 15.5, "dy": 6}, "encoding": {"text": {"value": "He*"}}},
     {"mark": {"type": "text", "fontSize": 25, "angle": 270, "align": "left", "baseline": "alphabetic", "dx": 53}, "encoding": {"text": {"value": "−"}}},
     {"mark": {"type": "text", "fontSize": 25, "fontStyle": "italic", "angle": 270, "align": "left", "baseline": "alphabetic", "dx": 73}, "encoding": {"text": {"value": "P"}}},
     {"mark": {"type": "text", "fontSize": 19, "angle": 270, "align": "left", "baseline": "alphabetic", "dx": 88.5, "dy": 6}, "encoding": {"text": {"value": "He"}}}
    ]}
   ]},
  {"width": 160, "height": 132,
   "layer": [
    {"data": {"name": "lines"}, "transform": [{"filter": "datum.p == 'C2'"}], "mark": {"type": "line", "strokeWidth": 1, "interpolate": "monotone"},
     "encoding": {
      "x": {"field": "x", "type": "quantitative", "scale": {"domain": [0, 1], "nice": false}, "axis": {"values": [0, 0.25, 0.5, 0.75, 1], "tickCount": 20, "labelExpr": "datum.value == 0.25 || datum.value == 0.75 ? '' : format(datum.value, '.1f')", "labelFontSize": 16, "title": null}},
      "y": {"field": "y", "type": "quantitative", "scale": {"domain": [0, 0.35], "nice": false}, "axis": {"values": [0, 0.1, 0.2, 0.3], "tickCount": 20, "format": ".1f", "labelFontSize": 16, "title": null}},
      "color": {"field": "g", "type": "nominal", "scale": {"domain": ["36", "3.6", "0.36"], "range": ["#0000ff", "#ff0000", "#000000"]}, "legend": null},
      "strokeDash": {"field": "g", "type": "nominal", "scale": {"domain": ["36", "3.6", "0.36"], "range": [[1, 0], [8, 5], [3, 3]]}, "legend": null}}},
    {"data": {"name": "one"}, "encoding": {"x": {"datum": 0.342}, "y": {"datum": 0.305}}, "layer": [
     {"mark": {"type": "text", "fontSize": 22, "align": "left", "baseline": "alphabetic"}, "encoding": {"text": {"value": "C"}}},
     {"mark": {"type": "text", "fontSize": 15, "align": "left", "baseline": "alphabetic", "dx": 14, "dy": 6}, "encoding": {"text": {"value": "9"}}},
     {"mark": {"type": "text", "fontSize": 22, "align": "left", "baseline": "alphabetic", "dx": 22}, "encoding": {"text": {"value": ","}}},
     {"mark": {"type": "text", "fontSize": 22, "align": "left", "baseline": "alphabetic", "dx": 31}, "encoding": {"text": {"value": "σ"}}},
     {"mark": {"type": "text", "fontSize": 15, "align": "left", "baseline": "alphabetic", "dx": 45, "dy": 6}, "encoding": {"text": {"value": "+"}}}
    ]},
    {"data": {"name": "one"}, "mark": {"type": "text", "fontSize": 31, "align": "left", "baseline": "alphabetic"}, "encoding": {"x": {"datum": 0.8875}, "y": {"datum": 0.286}, "text": {"value": "(c)"}}},
    {"data": {"name": "one"}, "encoding": {"x": {"datum": 0.4}, "y": {"datum": -0.1034}}, "layer": [
     {"mark": {"type": "text", "fontSize": 21, "fontStyle": "italic", "align": "left", "baseline": "alphabetic"}, "encoding": {"text": {"value": "P"}}},
     {"mark": {"type": "text", "fontSize": 17, "align": "left", "baseline": "alphabetic", "dx": 13, "dy": 8}, "encoding": {"text": {"value": "He"}}}
    ]}
   ]}
 ], "spacing": 86, "bounds": "flush"}
]
}
